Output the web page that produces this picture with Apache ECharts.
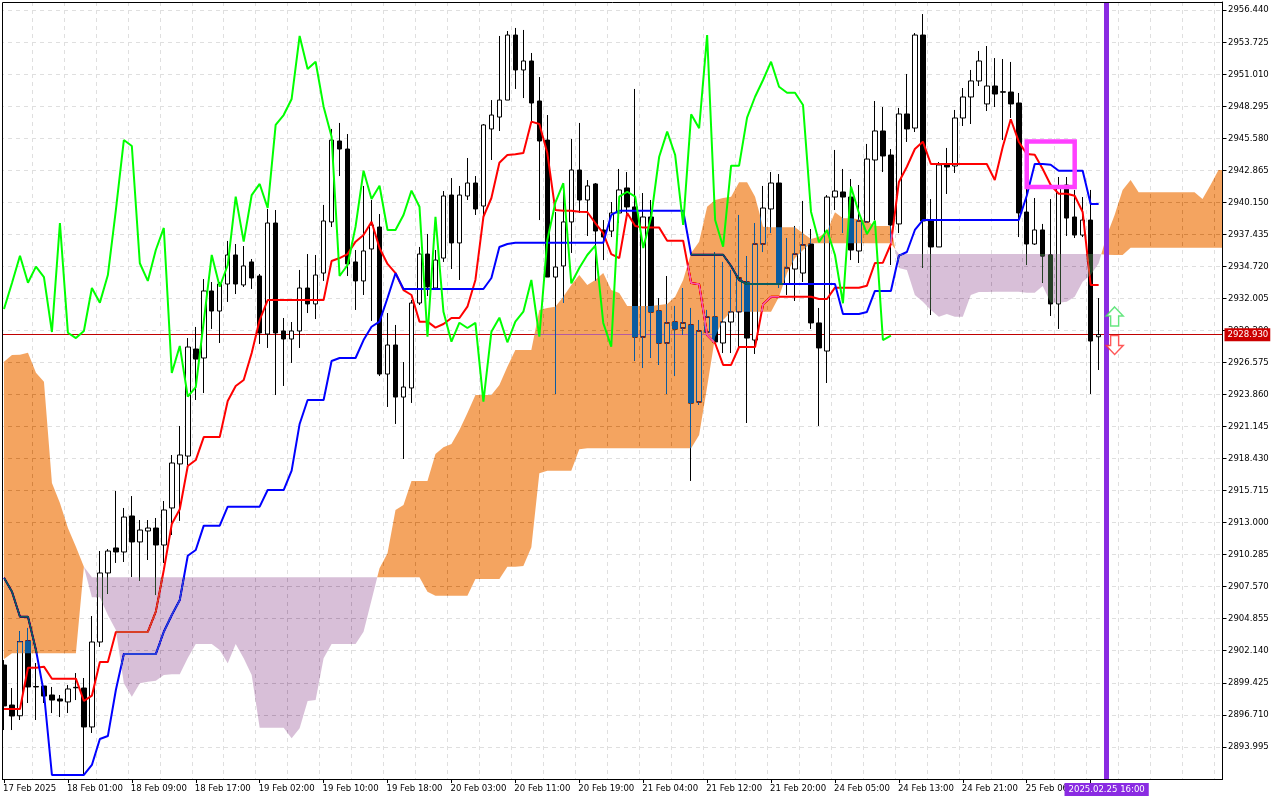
<!DOCTYPE html>
<html><head><meta charset="utf-8">
<style>html,body{margin:0;padding:0;background:#fff}#c{width:1280px;height:800px}</style>
<script src="https://cdn.jsdelivr.net/npm/echarts@6/dist/echarts.min.js"></script>
</head><body><div id="c"></div>
<script>
const tickLabels=["17 Feb 2025","18 Feb 01:00","18 Feb 09:00","18 Feb 17:00","19 Feb 02:00","19 Feb 10:00","19 Feb 18:00","20 Feb 03:00","20 Feb 11:00","20 Feb 19:00","21 Feb 04:00","21 Feb 12:00","21 Feb 20:00","24 Feb 05:00","24 Feb 13:00","24 Feb 21:00","25 Feb 06:00"];
const yTicks=[2956.440,2953.725,2951.010,2948.295,2945.580,2942.865,2940.150,2937.435,2934.720,2932.005,2929.290,2926.575,2923.860,2921.145,2918.430,2915.715,2913.000,2910.285,2907.570,2904.855,2902.140,2899.425,2896.710,2893.995];
const opens=[2900.93,2897.54,2896.63,2902.97,2899.11,2899.15,2898.39,2898.05,2897.80,2899.04,
2898.98,2895.68,2902.88,2908.73,2910.85,2910.51,2913.56,2911.36,2912.29,2912.54,
2911.10,2914.24,2917.97,2918.64,2927.71,2926.95,2932.63,2930.93,2933.22,2935.68,
2933.14,2935.09,2933.90,2928.98,2938.39,2929.24,2928.56,2929.24,2932.88,2931.53,
2934.15,2938.48,2945.34,2944.66,2935.09,2933.48,2936.19,2938.05,2925.59,2928.05,
2923.64,2924.41,2931.61,2935.76,2932.88,2935.42,2940.76,2936.70,2940.68,2941.78,
2939.83,2946.36,2947.37,2948.81,2954.32,2951.36,2952.12,2948.73,2945.42,2933.81,
2934.75,2938.48,2942.88,2940.34,2941.70,2937.80,2937.71,2939.24,2941.36,2939.75,
2928.73,2938.90,2930.93,2928.22,2930.00,2929.49,2929.75,2923.22,2929.15,2930.42,
2928.22,2930.00,2930.85,2933.39,2928.47,2936.61,2939.58,2941.78,2933.22,2934.49,
2934.15,2936.61,2929.92,2927.54,2940.59,2941.02,2940.59,2936.02,2938.48,2943.73,
2946.19,2944.15,2938.31,2947.63,2946.44,2954.32,2938.64,2936.36,2943.39,2943.22,
2947.29,2949.07,2950.43,2948.48,2950.00,2949.51,2949.49,2948.56,2939.32,2936.61,
2937.80,2935.68,2931.53,2941.61,2938.90,2937.37,2938.64,2928.75];
const closes=[2897.46,2896.61,2902.91,2899.07,2899.07,2898.30,2897.96,2897.88,2898.90,2899.00,
2895.68,2902.88,2908.73,2910.59,2910.51,2913.47,2911.36,2912.37,2912.54,2911.10,
2914.07,2918.05,2918.73,2927.88,2926.86,2932.63,2930.93,2933.22,2935.68,2933.22,
2934.75,2933.73,2929.07,2938.39,2929.07,2928.56,2929.24,2932.88,2931.53,2933.98,
2938.56,2945.42,2944.66,2934.92,2933.48,2936.02,2938.22,2925.59,2928.05,2923.64,
2924.49,2931.61,2935.76,2932.97,2935.25,2940.68,2936.70,2940.76,2941.78,2939.58,
2946.70,2947.54,2948.81,2954.32,2951.36,2952.12,2948.56,2945.34,2933.81,2934.66,
2938.48,2942.88,2940.34,2941.53,2937.71,2937.20,2939.24,2941.19,2939.75,2928.73,
2938.90,2930.85,2928.22,2929.92,2929.41,2929.92,2923.14,2929.24,2930.42,2928.31,
2930.00,2930.85,2933.73,2928.64,2936.61,2939.66,2941.78,2933.22,2934.58,2935.76,
2936.53,2929.92,2927.80,2940.59,2941.10,2940.59,2936.10,2938.56,2943.81,2946.19,
2944.07,2938.22,2947.63,2946.36,2954.32,2938.56,2936.36,2943.31,2943.14,2947.29,
2949.07,2950.43,2952.12,2950.00,2949.32,2949.48,2948.48,2939.24,2936.61,2937.80,
2935.59,2931.53,2941.44,2938.81,2937.37,2938.64,2928.39,2928.93];
const lows=[2895.42,2895.42,2896.27,2897.71,2896.27,2897.71,2896.86,2896.52,2896.86,2897.96,
2891.61,2895.17,2902.46,2906.95,2909.58,2909.66,2908.39,2908.05,2909.83,2906.86,
2909.58,2911.95,2913.14,2917.88,2923.39,2923.98,2929.41,2928.22,2931.70,2932.37,
2932.97,2932.80,2928.14,2927.80,2923.81,2924.58,2926.53,2927.80,2930.76,2930.25,
2933.48,2938.05,2942.37,2933.90,2931.02,2932.29,2930.09,2925.42,2922.80,2921.36,
2918.39,2923.14,2931.44,2932.20,2932.71,2935.09,2934.49,2933.56,2940.34,2939.07,
2938.90,2943.73,2946.19,2948.81,2949.75,2948.98,2946.95,2938.64,2933.81,2923.90,
2931.61,2935.85,2939.24,2937.29,2933.48,2935.25,2937.20,2938.39,2938.90,2926.70,
2926.10,2926.95,2926.36,2923.90,2925.42,2928.90,2916.53,2922.97,2928.90,2928.22,
2927.37,2927.37,2927.88,2921.44,2927.29,2935.93,2937.54,2932.88,2932.29,2931.78,
2933.39,2929.41,2921.19,2924.83,2939.49,2937.54,2935.25,2935.00,2938.39,2938.64,
2942.71,2934.83,2937.54,2945.26,2946.10,2934.58,2930.59,2936.36,2940.85,2942.63,
2946.61,2946.78,2950.00,2947.88,2948.22,2945.42,2947.29,2937.20,2934.83,2936.53,
2933.31,2930.51,2929.41,2937.29,2937.12,2937.20,2923.90,2925.93];
const highs=[2901.35,2898.98,2903.81,2904.07,2901.10,2899.15,2899.07,2898.39,2899.24,2900.25,
2899.83,2905.08,2910.59,2910.76,2915.68,2914.24,2915.25,2913.22,2913.22,2913.39,
2914.83,2918.73,2921.19,2928.64,2929.58,2933.64,2933.39,2933.39,2936.87,2936.61,
2936.44,2935.34,2934.07,2939.58,2939.49,2930.34,2930.00,2934.41,2935.76,2935.68,
2939.92,2946.36,2946.87,2945.93,2936.10,2941.53,2940.34,2939.15,2930.76,2929.75,
2926.61,2931.86,2936.36,2937.46,2936.10,2941.10,2942.20,2941.53,2943.90,2942.37,
2946.78,2948.81,2954.24,2954.66,2954.92,2954.75,2952.80,2950.76,2947.54,2939.32,
2941.78,2945.51,2946.87,2942.03,2941.78,2938.64,2940.17,2942.97,2942.71,2949.75,
2940.93,2940.34,2932.03,2933.90,2931.36,2932.88,2931.19,2930.17,2931.02,2935.93,
2935.09,2934.41,2939.07,2935.59,2938.39,2941.53,2942.71,2942.54,2937.12,2938.14,
2940.26,2937.88,2931.19,2940.76,2944.58,2942.97,2942.12,2941.61,2945.09,2948.73,
2948.22,2944.66,2948.14,2951.02,2954.49,2956.10,2940.42,2943.56,2944.75,2947.97,
2949.83,2951.36,2952.97,2953.39,2952.37,2952.29,2952.04,2949.41,2941.61,2940.51,
2938.31,2940.42,2942.29,2942.29,2941.19,2940.59,2941.19,2932.03];
const tenkan=[2897.20,2897.20,2897.20,2900.70,2900.70,2900.79,2899.77,2899.77,2899.77,2899.77,
2897.88,2898.33,2901.19,2901.19,2903.73,2903.73,2903.73,2903.73,2903.73,2905.45,
2908.98,2912.88,2914.13,2917.80,2918.30,2920.25,2920.25,2920.25,2923.31,2924.58,
2925.09,2927.37,2930.17,2931.86,2931.86,2931.86,2931.86,2931.86,2931.86,2931.86,
2931.86,2935.17,2935.42,2935.76,2936.81,2937.37,2938.50,2936.27,2934.92,2934.15,
2932.71,2932.29,2930.03,2930.03,2929.52,2929.83,2930.34,2930.34,2931.30,2933.56,
2938.92,2940.51,2943.50,2944.15,2944.21,2944.32,2946.98,2946.78,2944.32,2939.49,
2939.43,2939.43,2939.35,2939.32,2938.39,2937.54,2935.76,2935.42,2939.24,2938.14,
2938.00,2938.00,2938.00,2936.89,2936.89,2936.89,2933.31,2933.20,2928.90,2928.20,
2926.36,2926.36,2927.88,2927.88,2927.88,2931.50,2932.14,2932.14,2932.14,2932.14,
2932.14,2932.14,2931.95,2931.95,2932.91,2932.91,2932.91,2932.91,2933.08,2935.00,
2935.03,2936.61,2941.87,2943.16,2944.66,2945.28,2943.39,2943.39,2943.39,2943.39,
2943.39,2943.39,2943.39,2943.39,2942.03,2944.86,2947.18,2945.28,2944.24,2944.18,
2942.97,2941.61,2940.87,2940.87,2940.70,2939.32,2933.14,2933.14];
const kijun=[2908.33,2907.14,2905.02,2905.02,2902.20,2898.56,2891.61,2891.61,2891.61,2891.61,
2891.61,2892.46,2894.66,2894.91,2898.81,2901.86,2901.86,2901.86,2901.86,2901.86,
2903.75,2905.17,2906.44,2910.19,2910.68,2912.74,2912.74,2912.74,2914.35,2914.35,
2914.35,2914.35,2914.35,2915.76,2915.76,2915.76,2917.40,2921.36,2923.39,2923.39,
2923.39,2926.70,2926.95,2926.95,2926.95,2928.47,2929.60,2930.03,2932.03,2934.13,
2932.80,2932.80,2932.80,2932.80,2932.80,2932.80,2932.80,2932.80,2932.80,2932.80,
2932.80,2933.73,2936.36,2936.61,2936.72,2936.72,2936.72,2936.72,2936.72,2936.72,
2936.72,2936.72,2936.72,2936.72,2936.72,2936.72,2939.07,2939.43,2939.43,2939.43,
2939.43,2939.43,2939.43,2939.43,2939.43,2939.43,2935.70,2935.70,2935.70,2935.70,
2935.70,2934.75,2933.56,2933.22,2933.22,2933.22,2933.22,2933.22,2933.22,2933.22,
2933.22,2933.22,2933.22,2933.22,2933.22,2930.68,2930.68,2930.68,2930.85,2932.63,
2932.63,2932.63,2935.62,2935.93,2937.80,2938.64,2938.64,2938.64,2938.64,2938.64,
2938.64,2938.64,2938.64,2938.64,2938.64,2938.64,2938.64,2938.64,2940.70,2943.39,
2943.39,2943.33,2942.82,2942.82,2942.82,2942.82,2940.00,2940.00];
const chikou=[2931.10,2933.31,2935.62,2933.33,2934.69,2933.81,2929.15,2938.39,2929.09,2928.64,
2929.24,2932.88,2931.64,2933.98,2939.49,2945.42,2944.92,2934.98,2933.48,2936.10,
2937.97,2925.68,2927.97,2923.67,2924.49,2930.03,2935.68,2932.99,2934.83,2940.62,
2936.81,2940.76,2941.70,2939.66,2946.70,2947.54,2948.90,2954.24,2951.44,2952.06,
2948.25,2945.70,2933.90,2934.83,2938.08,2942.82,2940.42,2941.55,2937.80,2937.80,
2939.07,2941.13,2939.77,2928.76,2938.92,2930.87,2928.33,2929.94,2929.49,2929.92,
2923.25,2929.18,2930.37,2928.28,2930.03,2930.87,2933.56,2928.76,2936.95,2940.11,
2941.76,2933.28,2934.58,2935.68,2936.47,2929.92,2927.91,2940.62,2941.04,2940.62,
2936.27,2938.92,2944.01,2946.13,2944.15,2938.22,2947.60,2946.42,2954.32,2938.64,
2936.38,2943.25,2943.25,2947.32,2949.09,2950.51,2952.06,2949.94,2949.43,2949.43,
2948.39,2939.35,2936.76,2937.80,2935.68,2931.59,2941.47,2939.24,2937.46,2938.59,
2928.47,2928.84];
const spanA=[2926.64,2927.20,2927.23,2927.40,2925.70,2924.94,2916.36,2914.66,2912.54,2910.96,
2909.26,2906.67,2906.67,2905.17,2903.90,2899.38,2898.25,2899.38,2899.52,2899.60,
2900.08,2900.14,2900.14,2901.52,2902.71,2902.71,2902.71,2902.20,2901.08,2902.71,
2901.50,2900.08,2895.62,2895.62,2895.62,2895.62,2894.72,2895.57,2897.88,2897.96,
2901.50,2902.71,2902.71,2902.71,2902.71,2903.75,2906.44,2909.13,2910.40,2914.07,
2914.49,2916.53,2916.53,2916.53,2918.81,2919.38,2919.66,2920.85,2922.29,2923.81,
2923.81,2923.81,2924.66,2926.21,2927.63,2927.63,2927.63,2931.02,2931.19,2931.30,
2932.14,2933.14,2933.98,2933.14,2933.56,2934.15,2932.71,2932.46,2931.36,2931.36,
2931.36,2931.36,2931.44,2931.53,2932.14,2933.56,2935.85,2936.81,2939.77,2940.34,
2940.51,2940.62,2941.84,2941.84,2940.62,2938.08,2938.03,2938.03,2938.03,2938.03,
2937.52,2937.03,2937.23,2937.65,2939.30,2938.79,2938.79,2938.70,2938.56,2938.14,
2938.14,2938.14,2934.58,2934.41,2932.29,2931.72,2931.02,2930.45,2930.68,2930.45,
2930.45,2932.29,2932.54,2932.54,2932.57,2932.57,2932.57,2932.57,2932.48,2932.48,
2933.05,2931.64,2931.64,2931.72,2932.14,2933.42,2933.98,2934.98,2937.29,2939.07,
2941.19,2942.03,2940.99,2940.99,2940.99,2940.99,2940.99,2940.99,2940.99,2940.99,
2940.42,2941.61,2942.88];
const spanB=[2901.44,2901.92,2901.92,2901.92,2901.92,2901.92,2901.92,2901.92,2901.92,2901.92,
2909.26,2908.36,2908.36,2908.36,2908.36,2908.36,2908.36,2908.36,2908.36,2908.36,
2908.36,2908.36,2908.36,2908.36,2908.36,2908.36,2908.36,2908.36,2908.36,2908.36,
2908.36,2908.36,2908.36,2908.36,2908.36,2908.36,2908.36,2908.36,2908.36,2908.36,
2908.36,2908.36,2908.36,2908.36,2908.36,2908.36,2908.36,2908.36,2908.36,2908.36,
2908.36,2908.36,2908.36,2907.14,2906.80,2906.80,2906.80,2906.80,2906.80,2908.22,
2908.22,2908.22,2908.22,2909.26,2909.26,2909.32,2910.91,2917.18,2917.40,2917.40,
2917.40,2917.40,2919.21,2919.30,2919.30,2919.30,2919.30,2919.30,2919.30,2919.30,
2919.30,2919.30,2919.30,2919.30,2919.30,2919.30,2919.30,2920.42,2924.52,2928.76,
2930.17,2930.87,2930.87,2930.87,2930.87,2930.87,2930.87,2932.14,2934.15,2935.42,
2936.10,2936.67,2936.67,2936.67,2936.67,2936.67,2936.67,2936.67,2936.67,2936.67,
2936.67,2936.67,2935.76,2935.76,2935.76,2935.76,2935.76,2935.76,2935.76,2935.76,
2935.76,2935.76,2935.76,2935.76,2935.76,2935.76,2935.76,2935.76,2935.76,2935.76,
2935.76,2935.76,2935.76,2935.76,2935.76,2935.76,2935.76,2935.76,2935.70,2935.68,
2935.68,2936.30,2936.30,2936.30,2936.30,2936.30,2936.30,2936.30,2936.30,2936.30,
2936.30,2936.30,2936.30];
const lastPrice=2928.93;
const markerBar=138, markerLabel="2025.02.25 16:00";
const arrowUp=[[139,2930.47]], arrowDown=[[139,2928.05]];
const boxRange=[[128,2945.30],[134,2941.44]];

const slotCount=spanA.length;
const categories=Array.from({length:slotCount},(_,i)=>i%8===0&&tickLabels[i/8]?tickLabels[i/8]:'');
const candles=opens.map((o,i)=>[o,closes[i],lows[i],highs[i]]);

// contiguous cloud regions between the two spans
const regions=[];
let cur=null;
for(let i=0;i<slotCount;i++){
  const up=spanA[i]>=spanB[i];
  if(!cur||cur.up!==up){
    let cross=null;
    if(cur){const d0=spanA[i-1]-spanB[i-1],d1=spanA[i]-spanB[i],t=d0/(d0-d1);
      cross=[i-1+t,spanA[i-1]+t*(spanA[i]-spanA[i-1])];cur.endCross=cross;}
    cur={up,start:i,end:i,startCross:cross,endCross:null};regions.push(cur);
  }
  cur.end=i;
}
const FF='"DejaVu Sans Condensed","Liberation Sans",Arial,sans-serif';
const chart=echarts.init(document.getElementById('c'),null,{renderer:'canvas',width:1280,height:800});
chart.setOption({
  animation:false,backgroundColor:'#ffffff',
  grid:{left:-1.5,top:2,width:1224,height:777,containLabel:false},
  tooltip:{show:false},
  xAxis:{type:'category',data:categories,boundaryGap:true,
    axisLine:{show:true,onZero:false,lineStyle:{color:'#000',width:1}},
    axisTick:{show:true,alignWithLabel:true,length:4,interval:i=>i%8===0&&i<=136,lineStyle:{color:'#000'}},
    axisLabel:{show:true,interval:i=>i%8===0&&!!categories[i],align:'left',margin:5,color:'#000',fontFamily:FF,fontSize:9.5,hideOverlap:false,padding:[0,0,0,-1]},
    splitLine:{show:true,interval:i=>i%4===0,lineStyle:{color:'#dfdfdf',type:[4,4],width:1}}
  },
  yAxis:{type:'value',position:'right',min:2891.27,max:2957.12,scale:true,
    axisLine:{show:true,lineStyle:{color:'#000',width:1}},
    axisTick:{show:true,length:4,customValues:yTicks,lineStyle:{color:'#000'}},
    axisLabel:{show:true,margin:5.5,customValues:yTicks,color:'#000',fontFamily:FF,fontSize:9.5,formatter:v=>v.toFixed(3)},
    splitLine:{show:true,lineStyle:{color:'#dfdfdf',type:[4,4],width:1}}
  },
  series:[
    {type:'candlestick',name:'price',data:candles,z:2,barWidth:5,large:false,progressive:0,clip:true,silent:true,
      itemStyle:{color:'#fff',color0:'#000',borderColor:'#000',borderColor0:'#000',borderWidth:1},
      markLine:{silent:true,z:1,symbol:'none',animation:false,precision:3,
        lineStyle:{color:'#c00000',width:1,type:'solid'},
        label:{show:true,position:'end',distance:2,formatter:()=>lastPrice.toFixed(3),color:'#fff',backgroundColor:'#cc0000',padding:[2,2,1,3],fontFamily:FF,fontSize:9.5},
        data:[{yAxis:lastPrice}]}
    },
    {type:'line',name:'tenkan',data:tenkan,z:3,showSymbol:false,silent:true,lineStyle:{color:'#ff0000',width:2}},
    {type:'line',name:'kijun',data:kijun,z:3,showSymbol:false,silent:true,lineStyle:{color:'#0000ff',width:2}},
    {type:'custom',name:'cloud',z:4,silent:true,clip:true,blendMode:'difference',data:regions.map((r,i)=>[i]),encode:{x:-1,y:-1},
      renderItem(params,api){
        const r=regions[params.dataIndex];
        const x0=api.coord([0,2900])[0],dx=api.coord([1,2900])[0]-x0;
        const pt=(f,v)=>[x0+f*dx,api.coord([0,v])[1]];
        const pts=[];
        if(r.startCross)pts.push(pt(r.startCross[0],r.startCross[1]));
        for(let i=r.start;i<=r.end;i++)pts.push(pt(i,spanA[i]));
        if(r.endCross)pts.push(pt(r.endCross[0],r.endCross[1]));
        else pts.push(pt(r.end+0.5,spanA[r.end]),pt(r.end+0.5,spanB[r.end]));
        for(let i=r.end;i>=r.start;i--)pts.push(pt(i,spanB[i]));
        return {type:'polygon',shape:{points:pts},style:{fill:r.up?'#0b5b9f':'#274027'}};
      }
    },
    {type:'line',name:'chikou',data:chikou,z:5,showSymbol:false,silent:true,lineStyle:{color:'#00ff00',width:2},
      markArea:{silent:true,z:6,itemStyle:{color:'rgba(0,0,0,0)',borderColor:'#ff40ff',borderWidth:4.5},
        data:[[{xAxis:boxRange[0][0],yAxis:boxRange[0][1]},{xAxis:boxRange[1][0],yAxis:boxRange[1][1]}]]},
      markLine:{silent:true,z:7,symbol:'none',animation:false,
        lineStyle:{color:'#8a2be2',width:5,type:'solid'},
        label:{show:true,position:'start',distance:4,formatter:()=>markerLabel,color:'#fff',backgroundColor:'#8a2be2',padding:[2,4,1,4],fontFamily:FF,fontSize:9.5},
        data:[{xAxis:markerBar}]}
    },
    {type:'scatter',name:'up',data:arrowUp,z:8,silent:true,symbol:'path://M8.5 0L17 9L12.5 9L12.5 19L4.5 19L4.5 9L0 9Z',symbolSize:[17,19],
      itemStyle:{color:'#fff',borderColor:'#40e060',borderWidth:1.5}},
    {type:'scatter',name:'down',data:arrowDown,z:8,silent:true,symbol:'path://M4.5 0L12.5 0L12.5 10L17 10L8.5 19L0 10L4.5 10Z',symbolSize:[17,19],
      itemStyle:{color:'#fff',borderColor:'#ff3030',borderWidth:1.5}}
  ],
  graphic:[
    {type:'rect',z:20,silent:true,shape:{x:0,y:0,width:2,height:782},style:{fill:'#fff'}},
    {type:'rect',z:21,silent:true,shape:{x:2.5,y:2.5,width:1220,height:777},style:{fill:'rgba(0,0,0,0)',stroke:'#000',lineWidth:1}}
  ]
});
</script></body></html>
